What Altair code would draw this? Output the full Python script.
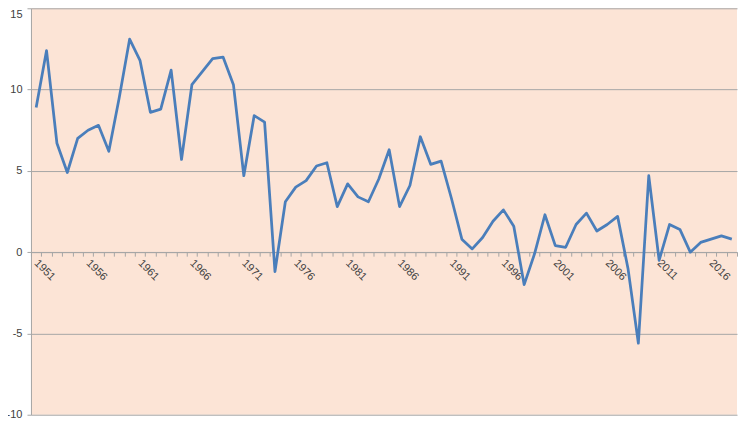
import altair as alt
import pandas as pd

years = list(range(1951, 2019))
growth = [
    8.9, 12.4, 6.7, 4.9, 7.0, 7.5, 7.8, 6.2, 9.5, 13.1,
    11.8, 8.6, 8.8, 11.2, 5.7, 10.3, 11.1, 11.9, 12.0, 10.3,
    4.7, 8.4, 8.0, -1.2, 3.1, 4.0, 4.4, 5.3, 5.5, 2.8,
    4.2, 3.4, 3.1, 4.5, 6.3, 2.8, 4.1, 7.1, 5.4, 5.6,
    3.3, 0.8, 0.2, 0.9, 1.9, 2.6, 1.6, -2.0, -0.1, 2.3,
    0.4, 0.3, 1.7, 2.4, 1.3, 1.7, 2.2, -1.0, -5.6, 4.7,
    -0.5, 1.7, 1.4, 0.0, 0.6, 0.8, 1.0, 0.8,
]
x_label_years = [1951, 1956, 1961, 1966, 1971, 1976, 1981, 1986, 1991, 1996, 2001, 2006, 2011, 2016]
y_ticks = [-10, -5, 0, 5, 10, 15]

df = pd.DataFrame({"year": years, "growth": growth})

W, H = 707, 407
GRAY = "#A6A6A6"
FONT = "Liberation Sans"
LABEL_COLOR = "#404040"

label_js = "[" + ",".join(str(v) for v in x_label_years) + "]"
boundaries = [y - 0.5 for y in years] + [years[-1] + 0.5]

x_axis = alt.Axis(
    title=None,
    values=boundaries,
    labelExpr=f"indexof({label_js}, datum.value + 0.5) >= 0 ? '' + (datum.value + 0.5) : ''",
    labelAngle=45,
    labelAlign="left",
    labelBaseline="middle",
    labelPadding=5,
    labelOffset=4.5,
    labelOverlap=False,
    labelFlush=False,
    labelFont=FONT,
    labelFontSize=11,
    labelColor=LABEL_COLOR,
    tickSize=4,
    tickColor=GRAY,
    domainColor=GRAY,
    grid=False,
    offset=-H * 10 / 25,
)

y_axis = alt.Axis(
    title=None,
    values=y_ticks,
    labelExpr="'' + datum.value",
    labelBaseline={"condition": {"test": "datum.value == 15", "value": "top"}, "value": "middle"},
    labelPadding=5,
    labelFont=FONT,
    labelFontSize=11,
    labelColor=LABEL_COLOR,
    tickSize=4,
    tickColor=GRAY,
    domainColor=GRAY,
    grid=True,
    gridColor=GRAY,
    gridWidth=1,
)

chart = (
    alt.Chart(df)
    .mark_line(color="#4A7EBB", strokeWidth=2.75, strokeJoin="round")
    .encode(
        x=alt.X("year:Q", scale=alt.Scale(domain=[1950.5, 2018.5], nice=False, zero=False), axis=x_axis),
        y=alt.Y("growth:Q", scale=alt.Scale(domain=[-10, 15], nice=False, zero=False), axis=y_axis),
    )
    .properties(
        width=W,
        height=H,
        autosize=alt.AutoSizeParams(type="none"),
        padding={"left": 23, "top": 0, "right": 5, "bottom": 8},
    )
    .configure_view(fill="#FCE4D6", stroke=None)
)

chart.save("out.html", embed_options={"renderer": "svg", "actions": False})
